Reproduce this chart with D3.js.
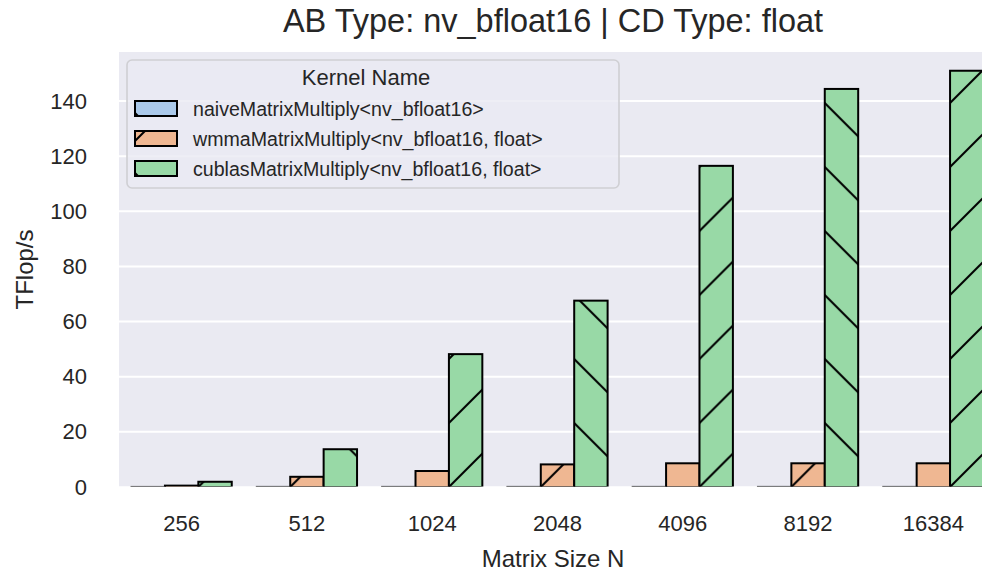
<!DOCTYPE html>
<html>
<head>
<meta charset="utf-8">
<script src="https://cdn.jsdelivr.net/npm/d3@7"></script>
<style>
    body { margin: 0; background: #fff; }
    text { font-family: 'Liberation Sans', Arial, sans-serif; fill: #262626; }
</style>
</head>
<body>
<div id="tflopsChart"></div>
<script>
const matrixSizes = ['256', '512', '1024', '2048', '4096', '8192', '16384'];
const kernelNames = [
    'naiveMatrixMultiply<nv_bfloat16>',
    'wmmaMatrixMultiply<nv_bfloat16, float>',
    'cublasMatrixMultiply<nv_bfloat16, float>'
];
const naiveTflops = [0.02, 0.03, 0.03, 0.03, 0.03, 0.03, 0.03];
const wmmaTflops = [0.5, 3.7, 5.8, 8.2, 8.6, 8.6, 8.6];
const cublasTflops = [1.9, 13.7, 48.2, 67.6, 116.5, 144.4, 151.0];
const yTicks = [0, 20, 40, 60, 80, 100, 120, 140];

class TflopsVis {
    constructor() {
        this.width = 982;
        this.height = 575;
        this.plot = {left: 119, right: 996, top: 52, bottom: 487};
        this.center = 553;
        this.colors = ['#abc9ea', '#efb792', '#98d9a6'];
        this.bg = '#eaeaf2';
        this.hatchSize = 64;
    }

    create() {
        const series = [naiveTflops, wmmaTflops, cublasTflops];
        const svg = d3.select('#tflopsChart')
            .append('svg')
            .attr('width', this.width)
            .attr('height', this.height);
        this.defs = svg.append('defs');

        // the axes edge sits half a pixel above y=0, so strokes on the baseline are mostly cut
        const plotH = this.plot.bottom - 0.5 - this.plot.top;
        this.defs.append('clipPath')
            .attr('id', 'plotClip')
            .append('rect')
            .attr('x', this.plot.left)
            .attr('y', this.plot.top)
            .attr('width', this.plot.right - this.plot.left)
            .attr('height', plotH);

        const x = d3.scaleBand()
            .domain(matrixSizes)
            .range([this.plot.left, this.plot.right])
            .paddingInner(0)
            .paddingOuter(0);

        const hue = d3.scaleBand()
            .domain(d3.range(kernelNames.length))
            .range([x.bandwidth() * 0.1, x.bandwidth() * 0.9]);

        const y = d3.scaleLinear()
            .domain([0, 157.8])
            .range([this.plot.bottom, this.plot.top]);

        // background + grid
        svg.append('rect')
            .attr('x', this.plot.left)
            .attr('y', this.plot.top)
            .attr('width', this.plot.right - this.plot.left)
            .attr('height', plotH)
            .style('fill', this.bg);

        svg.append('g')
            .attr('clip-path', 'url(#plotClip)')
            .selectAll('line')
            .data(yTicks)
            .join('line')
            .attr('x1', this.plot.left)
            .attr('x2', this.plot.right)
            .attr('y1', d => y(d))
            .attr('y2', d => y(d))
            .style('stroke', '#fff')
            .style('stroke-width', 2);

        this.drawBars(svg, series, x, hue, y);
        this.createAxes(svg, x, y);
        this.createLabels(svg);
        this.createLegend(svg, series.length * matrixSizes.length);
    }

    // hatch cycles '/', '\' over every patch, anchored at the patch's bottom-left corner
    hatchPattern(id, color, hatch, x0, y0) {
        const s = this.hatchSize;
        const p = this.defs.append('pattern')
            .attr('id', id)
            .attr('patternUnits', 'userSpaceOnUse')
            .attr('x', x0)
            .attr('y', y0)
            .attr('width', s)
            .attr('height', s);
        p.append('rect').attr('width', s).attr('height', s).style('fill', color);
        const segs = hatch === '/'
            ? [[0, s, s, 0], [-3, 3, 3, -3], [s - 3, s + 3, s + 3, s - 3]]
            : [[0, 0, s, s], [-3, s - 3, 3, s + 3], [s - 3, -3, s + 3, 3]];
        segs.forEach(([x1, y1, x2, y2]) => {
            p.append('line')
                .attr('x1', x1).attr('y1', y1)
                .attr('x2', x2).attr('y2', y2)
                .style('stroke', '#000')
                .style('stroke-width', 2);
        });
        return `url(#${id})`;
    }

    drawBars(svg, series, x, hue, y) {
        const bars = [];
        series.forEach((values, k) => {
            values.forEach((v, i) => {
                bars.push({k, i, size: matrixSizes[i], value: v, patch: k * matrixSizes.length + i});
            });
        });

        const g = svg.append('g').attr('clip-path', 'url(#plotClip)');
        g.selectAll('rect')
            .data(bars)
            .join('rect')
            .attr('x', d => x(d.size) + hue(d.k))
            .attr('y', d => y(d.value))
            .attr('width', hue.bandwidth())
            .attr('height', d => y(0) - y(d.value))
            .style('fill', d => this.hatchPattern(
                'hatch' + d.patch, this.colors[d.k], d.patch % 2 === 0 ? '/' : '\\',
                x(d.size) + hue(d.k), y(0)))
            .style('stroke', '#000')
            .style('stroke-width', 2);
    }

    createAxes(svg, x, y) {
        const xAxis = svg.append('g')
            .attr('transform', `translate(0,${this.plot.bottom})`)
            .call(d3.axisBottom(x).tickSize(0).tickPadding(28));
        xAxis.select('.domain').remove();
        xAxis.selectAll('text')
            .style('font-size', '22px')
            .style('fill', '#262626');

        const yAxis = svg.append('g')
            .attr('transform', `translate(${this.plot.left},0)`)
            .call(d3.axisLeft(y).tickValues(yTicks).tickSize(0).tickPadding(32));
        yAxis.select('.domain').remove();
        yAxis.selectAll('text')
            .style('font-size', '22px')
            .style('fill', '#262626');
    }

    createLabels(svg) {
        svg.append('text')
            .attr('x', this.center)
            .attr('y', 32)
            .attr('text-anchor', 'middle')
            .style('font-size', '32.5px')
            .text('AB Type: nv_bfloat16 | CD Type: float');

        svg.append('text')
            .attr('x', this.center)
            .attr('y', 567)
            .attr('text-anchor', 'middle')
            .style('font-size', '24px')
            .text('Matrix Size N');

        svg.append('text')
            .attr('transform', 'rotate(-90)')
            .attr('x', -(this.plot.top + this.plot.bottom) / 2)
            .attr('y', 33)
            .attr('text-anchor', 'middle')
            .style('font-size', '24px')
            .text('TFlop/s');
    }

    createLegend(svg, firstPatch) {
        const legend = svg.append('g')
            .attr('class', 'legend')
            .attr('transform', 'translate(127,60)');

        legend.append('rect')
            .attr('width', 492)
            .attr('height', 128)
            .attr('rx', 5)
            .style('fill', this.bg)
            .style('fill-opacity', 0.8)
            .style('stroke', '#cfcfd3')
            .style('stroke-width', 1.6);

        legend.append('text')
            .attr('x', 239)
            .attr('y', 25)
            .attr('text-anchor', 'middle')
            .style('font-size', '22px')
            .text('Kernel Name');

        kernelNames.forEach((name, k) => {
            const top = 41 + k * 30;
            const patch = firstPatch + k;
            legend.append('rect')
                .attr('x', 8)
                .attr('y', top)
                .attr('width', 42)
                .attr('height', 15)
                .style('fill', this.hatchPattern(
                    'legendHatch' + k, this.colors[k], patch % 2 === 0 ? '/' : '\\',
                    127 + 8, 60 + top + 15))
                .style('stroke', '#000')
                .style('stroke-width', 2);

            legend.append('text')
                .attr('x', 66)
                .attr('y', top + 15)
                .style('font-size', '19.6px')
                .text(name);
        });
    }
}

new TflopsVis().create();
</script>
</body>
</html>
